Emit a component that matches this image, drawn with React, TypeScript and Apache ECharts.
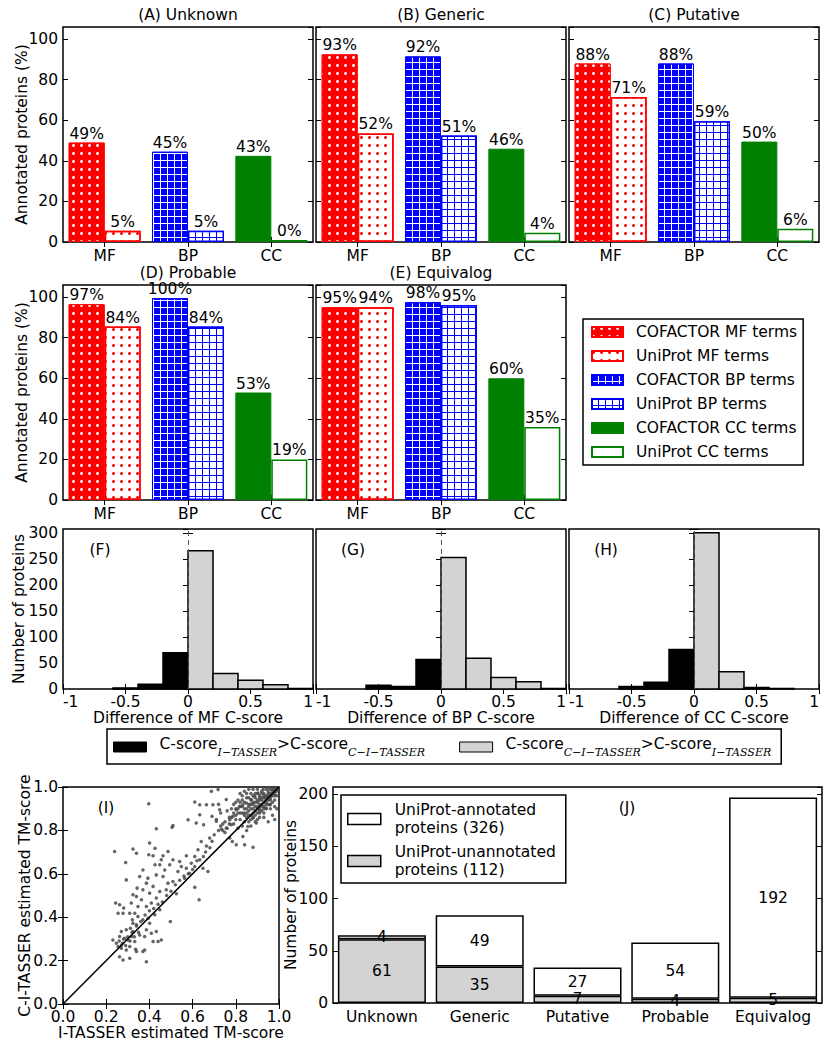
import React, { useEffect, useRef } from 'react';
import * as echarts from 'echarts';

// ---------------- data ----------------
const termCategories = ['MF', 'BP', 'CC'];
const panelTitles = ['(A) Unknown', '(B) Generic', '(C) Putative', '(D) Probable', '(E) Equivalog'];
const cofactorNames = ['COFACTOR MF terms', 'COFACTOR BP terms', 'COFACTOR CC terms'];
const uniprotNames = ['UniProt MF terms', 'UniProt BP terms', 'UniProt CC terms'];

const cofactorUnknown = [49, 44.5, 42.5];
const uniprotUnknown = [5.5, 5.5, 1];
const cofactorGeneric = [92.5, 91.5, 46];
const uniprotGeneric = [53.5, 52.5, 4.5];
const cofactorPutative = [88, 88, 49.5];
const uniprotPutative = [71.5, 59.5, 6.5];
const cofactorProbable = [96.5, 99.5, 53];
const uniprotProbable = [85.5, 85.5, 20];
const cofactorEquivalog = [95, 97.5, 60];
const uniprotEquivalog = [95, 96, 36];

const cofactorUnknownLbl = ['49%', '45%', '43%'];
const uniprotUnknownLbl = ['5%', '5%', '0%'];
const cofactorGenericLbl = ['93%', '92%', '46%'];
const uniprotGenericLbl = ['52%', '51%', '4%'];
const cofactorPutativeLbl = ['88%', '88%', '50%'];
const uniprotPutativeLbl = ['71%', '59%', '6%'];
const cofactorProbableLbl = ['97%', '100%', '53%'];
const uniprotProbableLbl = ['84%', '84%', '19%'];
const cofactorEquivalogLbl = ['95%', '98%', '60%'];
const uniprotEquivalogLbl = ['94%', '95%', '35%'];

const binEdges = [-1, -0.8, -0.6, -0.4, -0.2, 0, 0.2, 0.4, 0.6, 0.8, 1];
const mfBlackCounts = [0, 0, 2, 9, 70];
const mfGrayCounts = [266, 30, 17, 8, 1];
const bpBlackCounts = [0, 0, 7, 5, 57];
const bpGrayCounts = [253, 59, 22, 14, 1];
const ccBlackCounts = [0, 0, 5, 13, 76];
const ccGrayCounts = [301, 33, 3, 1, 0];
const histAxisNames = ['Difference of MF C-score', 'Difference of BP C-score', 'Difference of CC C-score'];

const jCategories = ['Unknown', 'Generic', 'Putative', 'Probable', 'Equivalog'];
const jUnannotated = [61, 35, 7, 4, 5];
const jAnnotated = [4, 49, 27, 54, 192];

const diagonalLine = [[0, 0], [1, 1]];
const scatterPoints: [number, number][] = [
  [0.239, 0.703], [0.29, 0.652], [0.324, 0.714], [0.34, 0.695], [0.293, 0.572], [0.397, 0.923], [0.432, 0.808],
  [0.401, 0.742], [0.426, 0.718], [0.397, 0.688], [0.417, 0.683], [0.505, 0.815], [0.509, 0.822], [0.486, 0.703],
  [0.463, 0.683], [0.455, 0.665], [0.494, 0.642], [0.509, 0.665], [0.54, 0.657], [0.548, 0.634], [0.571, 0.683],
  [0.579, 0.849], [0.617, 0.834], [0.61, 0.931], [0.633, 0.918], [0.664, 0.918], [0.694, 0.918], [0.718, 0.988],
  [0.687, 0.98], [0.725, 0.895], [0.756, 0.942], [0.633, 0.872], [0.651, 0.826], [0.69, 0.865], [0.71, 0.842],
  [0.733, 0.806], [0.756, 0.811], [0.779, 0.826], [0.787, 0.865], [0.772, 0.849], [0.802, 0.895], [0.818, 0.911],
  [0.833, 0.918], [0.849, 0.926], [0.872, 0.942], [0.887, 0.957], [0.903, 0.972], [0.926, 0.988], [0.949, 0.995],
  [0.972, 0.988], [0.88, 0.857], [0.91, 0.88], [0.941, 0.903], [0.957, 0.918], [0.895, 0.834], [0.856, 0.818],
  [0.833, 0.772], [0.802, 0.734], [0.841, 0.734], [0.88, 0.722], [0.784, 0.749], [0.772, 0.765],
  [0.571, 0.626], [0.594, 0.649], [0.61, 0.68], [0.625, 0.711], [0.64, 0.749], [0.679, 0.765], [0.664, 0.728],
  [0.633, 0.665], [0.61, 0.634], [0.586, 0.603], [0.648, 0.626], [0.671, 0.611], [0.63, 0.48], [0.61, 0.538],
  [0.563, 0.58], [0.525, 0.508], [0.497, 0.38], [0.478, 0.526], [0.463, 0.588], [0.432, 0.595], [0.471, 0.618],
  [0.486, 0.557], [0.509, 0.565], [0.532, 0.611], [0.448, 0.518], [0.432, 0.488], [0.417, 0.542], [0.401, 0.511],
  [0.409, 0.465], [0.386, 0.449], [0.363, 0.48], [0.34, 0.495], [0.343, 0.534], [0.324, 0.503], [0.347, 0.449],
  [0.37, 0.526], [0.386, 0.557], [0.393, 0.58], [0.355, 0.588], [0.37, 0.618], [0.426, 0.642], [0.448, 0.642],
  [0.244, 0.465], [0.262, 0.457], [0.255, 0.418], [0.281, 0.442], [0.278, 0.418], [0.309, 0.418], [0.316, 0.465],
  [0.332, 0.418], [0.347, 0.403], [0.34, 0.365], [0.37, 0.388], [0.394, 0.395], [0.401, 0.372], [0.425, 0.411],
  [0.448, 0.434], [0.432, 0.334], [0.409, 0.326], [0.417, 0.288], [0.44, 0.288], [0.455, 0.295], [0.386, 0.342],
  [0.378, 0.311], [0.355, 0.318], [0.231, 0.295], [0.247, 0.28], [0.262, 0.311], [0.255, 0.265], [0.275, 0.28],
  [0.286, 0.303], [0.301, 0.295], [0.316, 0.311], [0.324, 0.334], [0.332, 0.288], [0.309, 0.265], [0.293, 0.249],
  [0.27, 0.257], [0.262, 0.218], [0.278, 0.203], [0.309, 0.211], [0.336, 0.252], [0.34, 0.242], [0.37, 0.242],
  [0.378, 0.249], [0.386, 0.195], [0.324, 0.372], [0.312, 0.349], [0.293, 0.342], [0.27, 0.334], [0.321, 0.388],
  [0.82, 0.88], [0.84, 0.9], [0.85, 0.88], [0.86, 0.92], [0.87, 0.9], [0.88, 0.93], [0.89, 0.91], [0.9, 0.94],
  [0.91, 0.92], [0.92, 0.95], [0.93, 0.93], [0.94, 0.96], [0.95, 0.94], [0.96, 0.97], [0.97, 0.96], [0.98, 0.98],
  [0.99, 0.99], [0.85, 0.86], [0.87, 0.87], [0.89, 0.89], [0.91, 0.9], [0.93, 0.91], [0.95, 0.95], [0.97, 0.97],
  [0.9, 0.97], [0.92, 0.98], [0.94, 0.99], [0.96, 0.99], [0.88, 0.96], [0.86, 0.95], [0.84, 0.93], [0.83, 0.91],
  [0.81, 0.9], [0.8, 0.87], [0.82, 0.85], [0.84, 0.84], [0.86, 0.84], [0.88, 0.86], [0.9, 0.88], [0.92, 0.89],
  [0.94, 0.9], [0.96, 0.92], [0.98, 0.94], [0.99, 0.96], [0.97, 0.99], [0.95, 0.98], [0.93, 0.97], [0.91, 0.96],
  [0.89, 0.95], [0.87, 0.94], [0.85, 0.95], [0.83, 0.96], [0.81, 0.94], [0.79, 0.92], [0.78, 0.9], [0.8, 0.93],
  [0.82, 0.97], [0.84, 0.98], [0.86, 0.99], [0.88, 0.99], [0.9, 0.99], [0.92, 0.97], [0.94, 0.93], [0.96, 0.9],
  [0.98, 0.91], [0.93, 0.88], [0.91, 0.86], [0.89, 0.84], [0.87, 0.82], [0.85, 0.8], [0.83, 0.82], [0.81, 0.81],
  [0.79, 0.83], [0.77, 0.86], [0.76, 0.89], [0.75, 0.84], [0.74, 0.8], [0.73, 0.88], [0.72, 0.92], [0.71, 0.85],
  [0.8, 0.85], [0.81, 0.88], [0.82, 0.91], [0.83, 0.88], [0.84, 0.87], [0.85, 0.9], [0.86, 0.89], [0.87, 0.92],
  [0.88, 0.9], [0.89, 0.93], [0.9, 0.91], [0.91, 0.94], [0.92, 0.92], [0.93, 0.95], [0.94, 0.94], [0.95, 0.96],
  [0.96, 0.95], [0.97, 0.98], [0.98, 0.97], [0.99, 0.98], [0.86, 0.87], [0.88, 0.88], [0.9, 0.9], [0.92, 0.91],
  [0.94, 0.92], [0.96, 0.94], [0.98, 0.96], [0.87, 0.85], [0.89, 0.87], [0.91, 0.89], [0.93, 0.9], [0.95, 0.92],
  [0.97, 0.93], [0.84, 0.88], [0.86, 0.91], [0.88, 0.92], [0.9, 0.93], [0.92, 0.94], [0.94, 0.95], [0.96, 0.96],
  [0.98, 0.99], [0.95, 0.97], [0.93, 0.96], [0.91, 0.95], [0.89, 0.97], [0.87, 0.97], [0.85, 0.97], [0.83, 0.94],
  [0.82, 0.93], [0.8, 0.9], [0.79, 0.88], [0.78, 0.86], [0.77, 0.83], [0.76, 0.81], [0.75, 0.79], [0.74, 0.83],
  [0.73, 0.82], [0.72, 0.8], [0.7, 0.78], [0.69, 0.75], [0.68, 0.72], [0.66, 0.7], [0.65, 0.68], [0.62, 0.66],
  [0.6, 0.62], [0.58, 0.6], [0.56, 0.59], [0.54, 0.57], [0.52, 0.55], [0.5, 0.52], [0.48, 0.5], [0.46, 0.47],
  [0.44, 0.46], [0.42, 0.44], [0.4, 0.43], [0.38, 0.41], [0.36, 0.38], [0.34, 0.36], [0.32, 0.33], [0.3, 0.31],
  [0.28, 0.3], [0.27, 0.27], [0.26, 0.29], [0.29, 0.27], [0.31, 0.29], [0.33, 0.31], [0.35, 0.33],
  [0.97, 0.87], [0.99, 0.9], [0.98, 0.85], [0.95, 0.84], [0.93, 0.86], [0.9, 0.85],
];

// ---------------- option ----------------
const FONT = 'DejaVu Sans';
const FS = 15.5;
const RED = '#ff0000';
const BLUE = '#0000ff';
const GREEN = '#008000';
const GRAY = '#d3d3d3';
const NAME_I_GT = 'C-score I-TASSER > C-score C-I-TASSER';
const NAME_C_GT = 'C-score C-I-TASSER > C-score I-TASSER';
const NAME_ANN = 'UniProt-annotated proteins (326)';
const NAME_UNANN = 'UniProt-unannotated proteins (112)';

function buildOption() {
  const grids: any[] = [];
  const xAxes: any[] = [];
  const yAxes: any[] = [];
  const series: any[] = [];
  const graphics: any[] = [];
  const tickLine = { color: '#000', width: 1 };
  const txt = { color: '#000', fontSize: FS, fontFamily: FONT };

  const addGrid = (left: number, top: number, width: number, height: number) => {
    grids.push({ left, top, width, height, show: true, borderColor: '#000', borderWidth: 1.5, backgroundColor: 'transparent', containLabel: false, outerBoundsMode: 'none' });
    return grids.length - 1;
  };
  const tick = { show: true, inside: true, length: 5, lineStyle: tickLine };
  const addAxis = (list: any[], cfg: any) => { list.push(cfg); return list.length - 1; };

  const valueAxes = (g: number, isX: boolean, min: number, max: number, interval: number, showLabels: boolean,
    opts: { fmt?: any; name?: string; nameGap?: number; showMax?: boolean; edgeAlign?: boolean } = {}) => {
    const base = { gridIndex: g, type: 'value', min, max, interval, splitLine: { show: false }, axisLine: { show: false }, axisTick: tick };
    const list = isX ? xAxes : yAxes;
    const label: any = { show: showLabels, ...txt, margin: 5, formatter: opts.fmt, showMaxLabel: opts.showMax ?? true, showMinLabel: true };
    if (opts.edgeAlign) { label.alignMinLabel = 'left'; label.alignMaxLabel = 'right'; }
    const main = addAxis(list, {
      ...base, position: isX ? 'bottom' : 'left', axisLabel: label,
      name: opts.name, nameLocation: 'middle', nameGap: opts.nameGap, nameTextStyle: txt, nameMoveOverlap: false,
    });
    addAxis(list, { ...base, position: isX ? 'top' : 'right', axisLabel: { show: false } });
    return main;
  };
  const categoryAxes = (g: number, data: string[], showLabels: boolean) => {
    const base = { gridIndex: g, type: 'category', data, splitLine: { show: false }, axisLine: { show: false }, axisTick: { ...tick, alignWithLabel: true } };
    const main = addAxis(xAxes, { ...base, position: 'bottom', axisLabel: { show: showLabels, ...txt, margin: 6, interval: 0 } });
    addAxis(xAxes, { ...base, position: 'top', axisLabel: { show: false } });
    return main;
  };

  const dots = (color: string) => ({ symbol: 'circle', symbolSize: 1, color, dashArrayX: [3, 5], dashArrayY: [3, 5] });
  const squares = (color: string) => ({ symbol: 'rect', symbolSize: 1, color, dashArrayX: [6, 1], dashArrayY: [6, 1] });
  const cofStyles = [
    { color: RED, borderColor: RED, borderWidth: 1, decal: dots('#ffffff') },
    { color: '#ffffff', borderColor: BLUE, borderWidth: 1, decal: squares(BLUE) },
    { color: GREEN, borderColor: GREEN, borderWidth: 1 },
  ];
  const uniStyles = [
    { color: '#ffffff', borderColor: RED, borderWidth: 1.5, decal: dots(RED) },
    { color: BLUE, borderColor: BLUE, borderWidth: 1.5, decal: squares('#ffffff') },
    { color: '#ffffff', borderColor: GREEN, borderWidth: 1.5 },
  ];

  // ---- Bar panels A-E
  const panels = [
    { left: 63, top: 27, cof: cofactorUnknown, uni: uniprotUnknown, cl: cofactorUnknownLbl, ul: uniprotUnknownLbl, yl: true },
    { left: 316, top: 27, cof: cofactorGeneric, uni: uniprotGeneric, cl: cofactorGenericLbl, ul: uniprotGenericLbl, yl: false },
    { left: 569, top: 27, cof: cofactorPutative, uni: uniprotPutative, cl: cofactorPutativeLbl, ul: uniprotPutativeLbl, yl: false },
    { left: 63, top: 285, cof: cofactorProbable, uni: uniprotProbable, cl: cofactorProbableLbl, ul: uniprotProbableLbl, yl: true },
    { left: 316, top: 285, cof: cofactorEquivalog, uni: uniprotEquivalog, cl: cofactorEquivalogLbl, ul: uniprotEquivalogLbl, yl: false },
  ];
  panels.forEach((p, pi) => {
    const g = addGrid(p.left, p.top, 250, 215);
    const xi = categoryAxes(g, termCategories, true);
    const yi = valueAxes(g, false, 0, 106, 20, p.yl, { showMax: false, name: p.yl ? 'Annotated proteins (%)' : undefined, nameGap: 33 });
    graphics.push({ type: 'text', x: p.left + 125, y: p.top - 12, style: { text: panelTitles[pi], align: 'center', verticalAlign: 'middle', fill: '#000', fontSize: FS, fontFamily: FONT } });
    for (let t = 0; t < 3; t++) {
      const pairs: [string, number[], string[], any, string][] = [
        [cofactorNames[t], p.cof, p.cl, cofStyles[t], 'cof' + pi],
        [uniprotNames[t], p.uni, p.ul, uniStyles[t], 'uni' + pi],
      ];
      pairs.forEach(([name, vals, lbls, style, stack]) => {
        series.push({
          type: 'bar', name, xAxisIndex: xi, yAxisIndex: yi, stack, barWidth: 36, barGap: '0%',
          data: termCategories.map((_, i) => (i === t ? vals[i] : '-')),
          itemStyle: style,
          label: { show: true, position: 'top', distance: 1, ...txt, formatter: () => lbls[t] },
          silent: true,
        });
      });
    }
  });

  // ---- Histogram panels F-H
  const hists = [
    { left: 63, black: mfBlackCounts, gray: mfGrayCounts, tag: '(F)' },
    { left: 316, black: bpBlackCounts, gray: bpGrayCounts, tag: '(G)' },
    { left: 569, black: ccBlackCounts, gray: ccGrayCounts, tag: '(H)' },
  ];
  const histRender = (fill: string) => (params: any, api: any) => {
    const a = api.coord([api.value(0), api.value(2)]);
    const b = api.coord([api.value(1), 0]);
    return { type: 'rect', shape: { x: a[0], y: a[1], width: b[0] - a[0], height: b[1] - a[1] }, style: { fill, stroke: '#000', lineWidth: 1.5 } };
  };
  hists.forEach((h, hi) => {
    const g = addGrid(h.left, 529, 250, 160);
    const xi = valueAxes(g, true, -1, 1, 0.5, true, { name: histAxisNames[hi], nameGap: 21, edgeAlign: true });
    const yi = valueAxes(g, false, 0, 308, 50, hi === 0, { showMax: false, name: hi === 0 ? 'Number of proteins' : undefined, nameGap: 36 });
    series.push({
      type: 'custom', name: NAME_I_GT, xAxisIndex: xi, yAxisIndex: yi, silent: true,
      data: h.black.map((c, i) => [binEdges[i], binEdges[i + 1], c]).filter((d) => d[2] > 0),
      encode: { x: [0, 1], y: 2 }, renderItem: histRender('#000000'),
      itemStyle: { color: '#000000' },
    });
    series.push({
      type: 'custom', name: NAME_C_GT, xAxisIndex: xi, yAxisIndex: yi, silent: true,
      data: h.gray.map((c, i) => [binEdges[i + 5], binEdges[i + 6], c]).filter((d) => d[2] > 0),
      encode: { x: [0, 1], y: 2 }, renderItem: histRender(GRAY),
      itemStyle: { color: GRAY },
      markLine: { silent: true, symbol: 'none', label: { show: false }, lineStyle: { type: [5, 4], color: '#555', width: 1 }, data: [{ xAxis: 0 }] },
    });
    graphics.push({ type: 'text', x: h.left + 37, y: 550, style: { text: h.tag, align: 'center', verticalAlign: 'middle', fill: '#000', fontSize: FS, fontFamily: FONT } });
  });

  // ---- Scatter I
  {
    const g = addGrid(63, 787, 216, 217);
    const f1 = (v: number) => v.toFixed(1);
    const xi = valueAxes(g, true, 0, 1, 0.2, true, { fmt: f1, name: 'I-TASSER estimated TM-score', nameGap: 21 });
    const yi = valueAxes(g, false, 0, 1, 0.2, true, { fmt: f1, name: 'C-I-TASSER estimated TM-score', nameGap: 30 });
    series.push({ type: 'scatter', xAxisIndex: xi, yAxisIndex: yi, data: scatterPoints, symbolSize: 3.5, itemStyle: { color: '#4a4a4a', opacity: 0.85 }, silent: true });
    series.push({ type: 'line', xAxisIndex: xi, yAxisIndex: yi, data: diagonalLine, showSymbol: false, lineStyle: { color: '#000', width: 1.5 }, silent: true, z: 3 });
    graphics.push({ type: 'text', x: 106, y: 808, style: { text: '(I)', align: 'center', verticalAlign: 'middle', fill: '#000', fontSize: FS, fontFamily: FONT } });
  }

  // ---- Stacked bars J
  {
    const g = addGrid(333, 787, 489, 216);
    const xi = addAxis(xAxes, { gridIndex: g, type: 'category', data: jCategories, position: 'bottom', axisLine: { show: false }, axisTick: { show: false }, axisLabel: { ...txt, margin: 6, interval: 0 } });
    const yi = valueAxes(g, false, 0, 207, 50, true, { showMax: false, name: 'Number of proteins', nameGap: 34 });
    const lbl = { show: true, position: 'inside', ...txt };
    series.push({ type: 'bar', name: NAME_UNANN, xAxisIndex: xi, yAxisIndex: yi, stack: 'j', barCategoryGap: '10%', data: jUnannotated, itemStyle: { color: GRAY, borderColor: '#000', borderWidth: 1.5 }, label: lbl, silent: true });
    series.push({ type: 'bar', name: NAME_ANN, xAxisIndex: xi, yAxisIndex: yi, stack: 'j', barCategoryGap: '10%', data: jAnnotated, itemStyle: { color: '#ffffff', borderColor: '#000', borderWidth: 1.5 }, label: lbl, silent: true });
    graphics.push({ type: 'text', x: 627, y: 808, style: { text: '(J)', align: 'center', verticalAlign: 'middle', fill: '#000', fontSize: FS, fontFamily: FONT } });
  }

  const legendBox = { borderColor: '#000', borderWidth: 1.5, backgroundColor: '#fff', selectedMode: false, icon: 'rect' };
  const legends = [
    {
      ...legendBox, left: 583, top: 319, orient: 'vertical', itemWidth: 31, itemHeight: 10, itemGap: 6, padding: [4, 6, 4, 8],
      data: [cofactorNames[0], uniprotNames[0], cofactorNames[1], uniprotNames[1], cofactorNames[2], uniprotNames[2]],
      textStyle: { ...txt, padding: [0, 0, 0, 8], lineHeight: 18 },
    },
    {
      ...legendBox, left: 107, top: 729, orient: 'horizontal', itemWidth: 33, itemHeight: 10, itemGap: 34, padding: [7, 10, 6, 6],
      data: [
        { name: NAME_I_GT, itemStyle: { color: '#000', borderColor: '#000', borderWidth: 1 } },
        { name: NAME_C_GT, itemStyle: { color: GRAY, borderColor: '#000', borderWidth: 1 } },
      ],
      formatter: (n: string) => (n === NAME_I_GT
        ? '{m|C-score}{s|I−TASSER}{m|>C-score}{s|C−I−TASSER}'
        : '{m|C-score}{s|C−I−TASSER}{m|>C-score}{s|I−TASSER}'),
      textStyle: {
        ...txt, padding: [0, 0, 0, 8],
        rich: {
          m: { ...txt, lineHeight: 22, verticalAlign: 'top' },
          s: { color: '#000', fontSize: 11, fontFamily: 'DejaVu Serif', fontStyle: 'italic', lineHeight: 11, verticalAlign: 'bottom' },
        },
      },
    },
    {
      ...legendBox, left: 341, top: 795, orient: 'vertical', itemWidth: 33, itemHeight: 11, itemGap: 6, padding: [6, 10, 4, 6],
      data: [
        { name: NAME_ANN, itemStyle: { color: '#fff', borderColor: '#000', borderWidth: 1.5 } },
        { name: NAME_UNANN, itemStyle: { color: GRAY, borderColor: '#000', borderWidth: 1.5 } },
      ],
      formatter: (n: string) => n.replace(' proteins', '\nproteins'),
      textStyle: { ...txt, padding: [0, 0, 0, 9], lineHeight: 18 },
    },
  ];

  return {
    animation: false,
    backgroundColor: '#ffffff',
    textStyle: { fontFamily: FONT },
    grid: grids,
    xAxis: xAxes,
    yAxis: yAxes,
    series,
    legend: legends,
    graphic: graphics,
  };
}

export default function App() {
  const ref = useRef<HTMLDivElement>(null);
  useEffect(() => {
    const chart = echarts.init(ref.current!, null, { renderer: 'svg' });
    chart.setOption(buildOption() as any);
    return () => chart.dispose();
  }, []);
  return <div ref={ref} style={{ position: 'absolute', left: 0, top: 0, width: 830, height: 1050, background: '#fff' }} />;
}
